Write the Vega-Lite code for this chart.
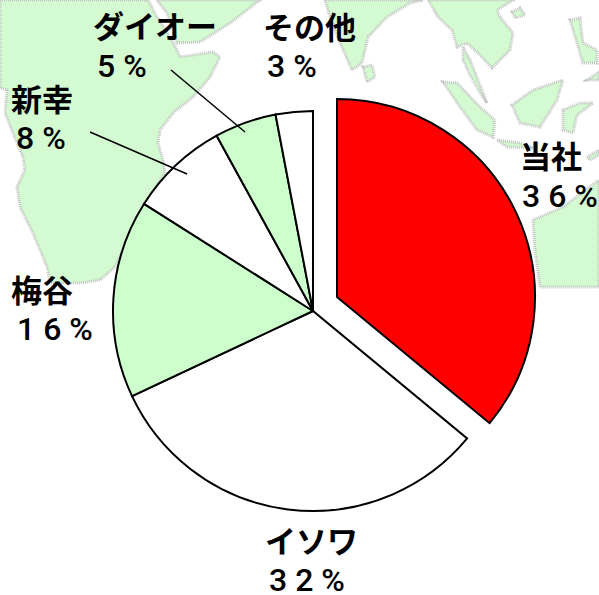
{"$schema":"https://vega.github.io/schema/vega-lite/v6.json","width":599,"height":595,"padding":0,"autosize":"none","background":"white","view":{"stroke":null},
"datasets":{"land":[
{"g":"africa","i":0,"x":0,"y":0},{"g":"africa","i":1,"x":148,"y":0},{"g":"africa","i":2,"x":157,"y":17},{"g":"africa","i":3,"x":170,"y":37},{"g":"africa","i":4,"x":177,"y":50},{"g":"africa","i":5,"x":180,"y":57},{"g":"africa","i":6,"x":213,"y":52},{"g":"africa","i":7,"x":220,"y":57},{"g":"africa","i":8,"x":210,"y":77},{"g":"africa","i":9,"x":193,"y":97},{"g":"africa","i":10,"x":173,"y":113},{"g":"africa","i":11,"x":160,"y":130},{"g":"africa","i":12,"x":158,"y":143},{"g":"africa","i":13,"x":163,"y":160},{"g":"africa","i":14,"x":165,"y":173},{"g":"africa","i":15,"x":143,"y":207},{"g":"africa","i":16,"x":115,"y":267},{"g":"africa","i":17,"x":100,"y":280},{"g":"africa","i":18,"x":80,"y":283},{"g":"africa","i":19,"x":50,"y":283},{"g":"africa","i":20,"x":47,"y":267},{"g":"africa","i":21,"x":33,"y":233},{"g":"africa","i":22,"x":20,"y":207},{"g":"africa","i":23,"x":17,"y":187},{"g":"africa","i":24,"x":25,"y":170},{"g":"africa","i":25,"x":23,"y":157},{"g":"africa","i":26,"x":13,"y":133},{"g":"africa","i":27,"x":5,"y":113},{"g":"africa","i":28,"x":7,"y":90},{"g":"africa","i":29,"x":0,"y":88},
{"g":"arabia","i":0,"x":157,"y":0},{"g":"arabia","i":1,"x":167,"y":13},{"g":"arabia","i":2,"x":177,"y":43},{"g":"arabia","i":3,"x":200,"y":42},{"g":"arabia","i":4,"x":230,"y":23},{"g":"arabia","i":5,"x":260,"y":0},
{"g":"india","i":0,"x":325,"y":0},{"g":"india","i":1,"x":330,"y":17},{"g":"india","i":2,"x":340,"y":43},{"g":"india","i":3,"x":352,"y":70},{"g":"india","i":4,"x":362,"y":63},{"g":"india","i":5,"x":368,"y":37},{"g":"india","i":6,"x":387,"y":17},{"g":"india","i":7,"x":410,"y":3},{"g":"india","i":8,"x":423,"y":0},
{"g":"seasia","i":0,"x":428,"y":0},{"g":"seasia","i":1,"x":438,"y":17},{"g":"seasia","i":2,"x":452,"y":30},{"g":"seasia","i":3,"x":457,"y":47},{"g":"seasia","i":4,"x":467,"y":43},{"g":"seasia","i":5,"x":480,"y":55},{"g":"seasia","i":6,"x":492,"y":68},{"g":"seasia","i":7,"x":510,"y":50},{"g":"seasia","i":8,"x":513,"y":33},{"g":"seasia","i":9,"x":500,"y":17},{"g":"seasia","i":10,"x":497,"y":10},{"g":"seasia","i":11,"x":513,"y":0},
{"g":"malay","i":0,"x":463,"y":47},{"g":"malay","i":1,"x":470,"y":60},{"g":"malay","i":2,"x":478,"y":80},{"g":"malay","i":3,"x":487,"y":103},{"g":"malay","i":4,"x":480,"y":93},{"g":"malay","i":5,"x":470,"y":75},{"g":"malay","i":6,"x":463,"y":60},
{"g":"lanka","i":0,"x":363,"y":67},{"g":"lanka","i":1,"x":372,"y":65},{"g":"lanka","i":2,"x":375,"y":77},{"g":"lanka","i":3,"x":367,"y":82},
{"g":"sumatra","i":0,"x":443,"y":82},{"g":"sumatra","i":1,"x":457,"y":83},{"g":"sumatra","i":2,"x":480,"y":107},{"g":"sumatra","i":3,"x":495,"y":120},{"g":"sumatra","i":4,"x":493,"y":137},{"g":"sumatra","i":5,"x":477,"y":130},{"g":"sumatra","i":6,"x":460,"y":107},
{"g":"java","i":0,"x":497,"y":140},{"g":"java","i":1,"x":520,"y":143},{"g":"java","i":2,"x":533,"y":148},{"g":"java","i":3,"x":507,"y":147},
{"g":"borneo","i":0,"x":512,"y":105},{"g":"borneo","i":1,"x":533,"y":90},{"g":"borneo","i":2,"x":563,"y":80},{"g":"borneo","i":3,"x":557,"y":100},{"g":"borneo","i":4,"x":540,"y":127},{"g":"borneo","i":5,"x":520,"y":123},
{"g":"sulawesi","i":0,"x":563,"y":110},{"g":"sulawesi","i":1,"x":580,"y":103},{"g":"sulawesi","i":2,"x":593,"y":103},{"g":"sulawesi","i":3,"x":577,"y":115},{"g":"sulawesi","i":4,"x":573,"y":133},{"g":"sulawesi","i":5,"x":563,"y":130},
{"g":"phil","i":0,"x":570,"y":20},{"g":"phil","i":1,"x":580,"y":18},{"g":"phil","i":2,"x":583,"y":43},{"g":"phil","i":3,"x":597,"y":50},{"g":"phil","i":4,"x":597,"y":63},{"g":"phil","i":5,"x":583,"y":63},{"g":"phil","i":6,"x":577,"y":43},
{"g":"hainan","i":0,"x":512,"y":12},{"g":"hainan","i":1,"x":520,"y":8},{"g":"hainan","i":2,"x":525,"y":15},{"g":"hainan","i":3,"x":515,"y":18},
{"g":"guinea","i":0,"x":587,"y":80},{"g":"guinea","i":1,"x":599,"y":72},{"g":"guinea","i":2,"x":599,"y":80},
{"g":"timor","i":0,"x":587,"y":157},{"g":"timor","i":1,"x":599,"y":150},{"g":"timor","i":2,"x":599,"y":155},{"g":"timor","i":3,"x":590,"y":160},
{"g":"australia","i":0,"x":533,"y":220},{"g":"australia","i":1,"x":563,"y":207},{"g":"australia","i":2,"x":599,"y":180},{"g":"australia","i":3,"x":599,"y":287},{"g":"australia","i":4,"x":540,"y":287},{"g":"australia","i":5,"x":535,"y":250}
]},
"data":{"values":[
{"name":"当社","share":36,"pct":"3 6 %","rank":1},
{"name":"イソワ","share":32,"pct":"3 2 %","rank":2},
{"name":"梅谷","share":16,"pct":"1 6 %","rank":3},
{"name":"新幸","share":8,"pct":"8 %","rank":4},
{"name":"ダイオー","share":5,"pct":"5 %","rank":5},
{"name":"その他","share":3,"pct":"3 %","rank":6}
]},
"transform":[{"stack":"share","groupby":[],"sort":[{"field":"rank","order":"ascending"}],"as":["start","end"]}],
"resolve":{"scale":{"x":"independent","y":"independent","theta":"independent"}},
"layer":[
{"data":{"name":"land"},"transform":[],"mark":{"type":"line","fill":"#d3fad0","stroke":"#c4c4c4","strokeWidth":3,"strokeDash":[1,1],"interpolate":"linear-closed"},"encoding":{"x":{"field":"x","type":"quantitative","scale":{"domain":[0,599],"nice":false,"zero":false},"axis":null},"y":{"field":"y","type":"quantitative","scale":{"domain":[595,0],"nice":false,"zero":false},"axis":null},"detail":{"field":"g"},"order":{"field":"i","type":"ordinal"}}},
{"transform":[{"filter":"datum.rank > 1"}],"mark":{"type":"arc","radius":200,"stroke":"black","strokeWidth":2},"encoding":{"x":{"datum":313,"type":"quantitative","scale":{"domain":[0,599],"nice":false,"zero":false},"axis":null},"y":{"datum":311,"type":"quantitative","scale":{"domain":[595,0],"nice":false,"zero":false},"axis":null},"theta":{"field":"start","type":"quantitative","scale":{"domain":[0,100],"range":[0,6.28318]}},"theta2":{"field":"end"},"fill":{"field":"name","type":"nominal","legend":null,"scale":{"domain":["当社","イソワ","梅谷","新幸","ダイオー","その他"],"range":["#ff0000","#ffffff","#ccffcc","#ffffff","#ccffcc","#ffffff"]}}}},
{"transform":[{"filter":"datum.rank == 1"}],"mark":{"type":"arc","radius":198,"stroke":"black","strokeWidth":2},"encoding":{"x":{"datum":337,"type":"quantitative","scale":{"domain":[0,599],"nice":false,"zero":false},"axis":null},"y":{"datum":297,"type":"quantitative","scale":{"domain":[595,0],"nice":false,"zero":false},"axis":null},"theta":{"field":"start","type":"quantitative","scale":{"domain":[0,100],"range":[0,6.28318]}},"theta2":{"field":"end"},"fill":{"field":"name","type":"nominal","legend":null}}},
{"transform":[{"filter":"datum.name == '新幸'"}],"mark":{"type":"rule","stroke":"black","strokeWidth":1.5},"encoding":{"x":{"datum":90,"type":"quantitative","scale":{"domain":[0,599],"nice":false,"zero":false},"axis":null},"y":{"datum":132,"type":"quantitative","scale":{"domain":[595,0],"nice":false,"zero":false},"axis":null},"x2":{"datum":187},"y2":{"datum":174}}},
{"transform":[{"filter":"datum.name == 'ダイオー'"}],"mark":{"type":"rule","stroke":"black","strokeWidth":1.5},"encoding":{"x":{"datum":171,"type":"quantitative","scale":{"domain":[0,599],"nice":false,"zero":false},"axis":null},"y":{"datum":70,"type":"quantitative","scale":{"domain":[595,0],"nice":false,"zero":false},"axis":null},"x2":{"datum":245},"y2":{"datum":132}}},
{"mark":{"type":"text","align":"left","baseline":"middle","font":"Noto Sans CJK JP","fontWeight":"bold","fontSize":31,"color":"black"},"encoding":{"text":{"field":"name"},"x":{"field":"share","type":"quantitative","axis":null,"scale":{"domain":[3,5,8,16,32,36],"range":[263,93,11,11,265,520],"zero":false,"nice":false}},"y":{"field":"share","type":"quantitative","axis":null,"scale":{"domain":[3,5,8,16,32,36],"range":[30,29,102,293,544,159],"zero":false,"nice":false}}}},
{"mark":{"type":"text","align":"left","baseline":"middle","font":"Roboto","fontWeight":500,"fontSize":32,"color":"black"},"encoding":{"text":{"field":"pct"},"x":{"field":"share","type":"quantitative","axis":null,"scale":{"domain":[3,5,8,16,32,36],"range":[267,97,16,17,269,522],"zero":false,"nice":false}},"y":{"field":"share","type":"quantitative","axis":null,"scale":{"domain":[3,5,8,16,32,36],"range":[67,67,139,330,581,197],"zero":false,"nice":false}}}}
]}
